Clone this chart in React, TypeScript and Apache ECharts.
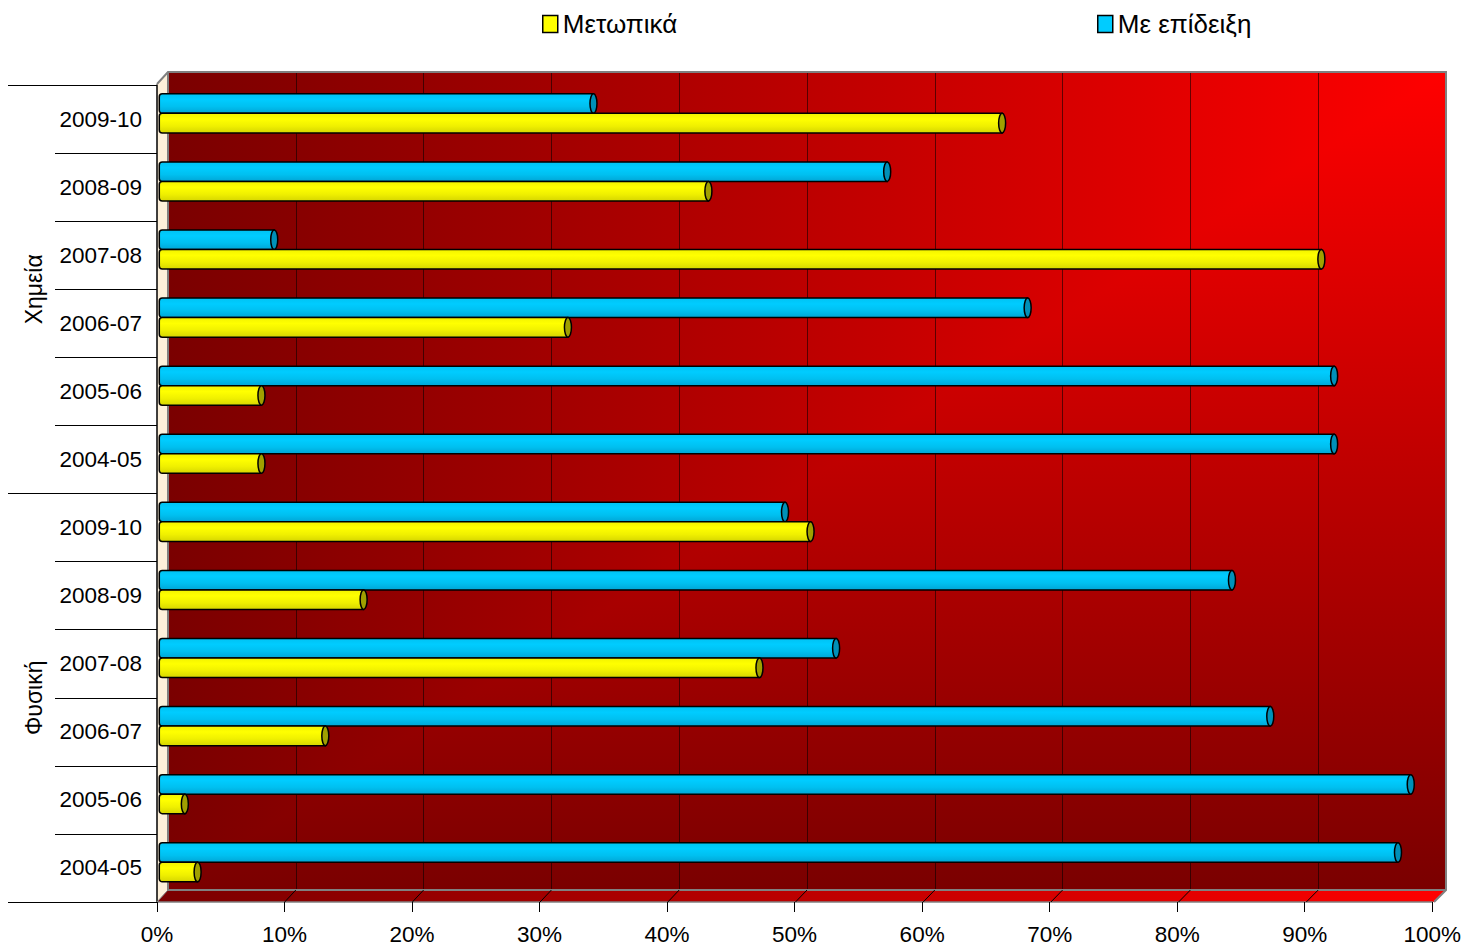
import React, { useEffect, useRef } from 'react';
import * as echarts from 'echarts';

// ---- data (top to bottom) ----
const categories = ['2009-10', '2008-09', '2007-08', '2006-07', '2005-06', '2004-05', '2009-10', '2008-09', '2007-08', '2006-07', '2005-06', '2004-05'];
const groups = ['Χημεία', 'Φυσική'];
const seriesNames = ['Μετωπικά', 'Με επίδειξη'];
const metopika = [66, 43, 91, 32, 8, 8, 51, 16, 47, 13, 2, 3];
const meEpideixi = [34, 57, 9, 68, 92, 92, 49, 84, 53, 87, 98, 97];
const xMin = 0;
const xMax = 100;
const xInterval = 10;

const FONT = "'Liberation Sans', Arial, sans-serif";

// geometry of the 3D box (decoration)
const FL = 157, FR = 1434, FB = 902; // front
const BL = 168, BR = 1446, BT = 72, BB = 890; // back wall

function makeRender(isBlue: boolean) {
  const body = isBlue
    ? [
        { offset: 0, color: '#00c2f2' },
        { offset: 0.3, color: '#00ccff' },
        { offset: 0.65, color: '#00c0f0' },
        { offset: 1, color: '#00a6d6' },
      ]
    : [
        { offset: 0, color: '#f2f200' },
        { offset: 0.3, color: '#ffff00' },
        { offset: 0.65, color: '#f0f000' },
        { offset: 1, color: '#d6d600' },
      ];
  const cap = isBlue ? '#0090b8' : '#a0a000';
  return (params: any, api: any) => {
    const val = api.value(0);
    const idx = api.value(1);
    const end = api.coord([val, idx]);
    const start = api.coord([0, idx]);
    const band = api.size([0, 1])[1];
    const h = band * 0.287;
    const yTop = isBlue ? end[1] - h : end[1];
    const rx = 3.5;
    return {
      type: 'group',
      children: [
        {
          type: 'rect',
          shape: { x: start[0], y: yTop, width: Math.max(end[0] - start[0], 1), height: h, r: [3, 0, 0, 3] },
          style: {
            fill: new echarts.graphic.LinearGradient(0, 0, 0, 1, body),
            stroke: '#000',
            lineWidth: 1.5,
          },
        },
        {
          type: 'ellipse',
          shape: { cx: end[0], cy: yTop + h / 2, rx, ry: h / 2 },
          style: { fill: cap, stroke: '#000', lineWidth: 1.5 },
        },
      ],
    };
  };
}

const floorConnectors: any[] = [];
for (let k = 0; k <= 10; k++) {
  const fx = FL + ((FR - FL) * k) / 10;
  const bx = BL + ((BR - BL) * k) / 10;
  floorConnectors.push({
    type: 'line',
    z: 1,
    shape: { x1: fx, y1: FB, x2: bx, y2: BB },
    style: { stroke: k === 0 || k === 10 ? '#808080' : '#000', lineWidth: 1 },
  });
}

export default function App() {
  const ref = useRef<HTMLDivElement>(null);
  useEffect(() => {
    if (!ref.current) return;
    const chart = echarts.init(ref.current, null, { renderer: 'svg' });
    const legendText = { fontFamily: FONT, fontSize: 26, color: '#000' };
    chart.setOption({
      animation: false,
      backgroundColor: '#fff',
      legend: [
        {
          data: [seriesNames[0]],
          left: 537,
          top: 6,
          icon: 'rect',
          itemWidth: 15,
          itemHeight: 17,
          itemGap: 8,
          itemStyle: { borderColor: '#000', borderWidth: 1.5 },
          textStyle: legendText,
        },
        {
          data: [seriesNames[1]],
          left: 1092,
          top: 6,
          icon: 'rect',
          itemWidth: 15,
          itemHeight: 17,
          itemGap: 8,
          itemStyle: { borderColor: '#000', borderWidth: 1.5 },
          textStyle: legendText,
        },
      ],
      grid: [
        { left: FL, right: 1464 - FR, top: 85, bottom: 947 - FB },
        { left: 159.3, right: 27.7, top: 79.3, bottom: 50.7 },
        { left: BL, right: 1464 - BR, top: BT, bottom: 947 - BB },
        { left: FL, right: 1464 - FR, top: 85, bottom: 947 - FB },
      ],
      xAxis: [
        {
          gridIndex: 0,
          type: 'value',
          min: xMin,
          max: xMax,
          interval: xInterval,
          axisLine: { show: true, lineStyle: { color: '#808080', width: 1.5 } },
          axisTick: { show: true, length: 10, lineStyle: { color: '#000' } },
          axisLabel: { formatter: '{value}%', fontFamily: FONT, fontSize: 22.5, color: '#000', margin: 21 },
          splitLine: { show: false },
        },
        { gridIndex: 1, type: 'value', min: xMin, max: xMax, show: false },
        {
          gridIndex: 2,
          type: 'value',
          min: xMin,
          max: xMax,
          interval: xInterval,
          axisLine: { show: false },
          axisTick: { show: false },
          axisLabel: { show: false },
          splitLine: { show: true, lineStyle: { color: 'rgba(0,0,0,0.55)', width: 1 } },
        },
        { gridIndex: 3, type: 'value', min: xMin, max: xMax, show: false },
      ],
      yAxis: [
        {
          gridIndex: 0,
          type: 'category',
          data: categories,
          inverse: true,
          axisLine: { show: true, lineStyle: { color: '#000', width: 1.5 } },
          axisTick: { show: true, length: 102, interval: 0, lineStyle: { color: '#000', width: 1 } },
          axisLabel: { interval: 0, fontFamily: FONT, fontSize: 22.5, color: '#000', margin: 15 },
        },
        { gridIndex: 1, type: 'category', data: categories, inverse: true, show: false },
        { gridIndex: 2, type: 'value', show: false },
        {
          gridIndex: 3,
          type: 'category',
          data: groups,
          inverse: true,
          axisLine: { show: false },
          axisTick: { show: true, length: 149, interval: 0, lineStyle: { color: '#000', width: 1 } },
          axisLabel: { interval: 0, rotate: 90, fontFamily: FONT, fontSize: 23, color: '#000', margin: 112 },
        },
      ],
      graphic: [
        {
          type: 'rect',
          z: -10,
          shape: { x: BL, y: BT, width: BR - BL, height: BB - BT },
          style: {
            fill: new echarts.graphic.LinearGradient(0, 0, 1, 0, [
              { offset: 0, color: '#7a0000' },
              { offset: 1, color: '#ff0000' },
            ]),
          },
        },
        {
          type: 'polygon',
          z: -9,
          shape: { points: [[BR, BT], [BR, BB], [BL, BB]] },
          style: {
            fill: new echarts.graphic.LinearGradient(0, 0, 0, 1, [
              { offset: 0, color: '#ff0000' },
              { offset: 1, color: '#7a0000' },
            ]),
          },
        },
        {
          type: 'polygon',
          z: -8,
          shape: { points: [[FL, 84], [BL, BT], [BL, BB], [FL, FB]] },
          style: { fill: '#fdf0da' },
        },
        {
          type: 'polygon',
          z: -8,
          shape: { points: [[FL, FB], [FR, FB], [BR, BB], [BL, BB]] },
          style: {
            fill: new echarts.graphic.LinearGradient(0, 0, 1, 0, [
              { offset: 0, color: '#7a0000' },
              { offset: 1, color: '#ff0000' },
            ]),
          },
        },
        {
          type: 'polyline',
          z: 1,
          shape: { points: [[FL, 84], [BL, BT], [BR, BT], [BR, BB], [FR, FB]] },
          style: { stroke: '#808080', lineWidth: 2, fill: null },
        },
        {
          type: 'polyline',
          z: 1,
          shape: { points: [[BL, BT], [BL, BB], [BR, BB]] },
          style: { stroke: '#808080', lineWidth: 2, fill: null },
        },
        ...floorConnectors,
      ],
      series: [
        {
          name: seriesNames[1],
          type: 'custom',
          xAxisIndex: 1,
          yAxisIndex: 1,
          itemStyle: { color: '#00ccff' },
          encode: { x: 0, y: 1 },
          data: meEpideixi.map((v, i) => [v, i]),
          renderItem: makeRender(true),
          z: 3,
        },
        {
          name: seriesNames[0],
          type: 'custom',
          xAxisIndex: 1,
          yAxisIndex: 1,
          itemStyle: { color: '#ffff00' },
          encode: { x: 0, y: 1 },
          data: metopika.map((v, i) => [v, i]),
          renderItem: makeRender(false),
          z: 3,
        },
      ],
    });
    return () => chart.dispose();
  }, []);
  return <div ref={ref} style={{ position: 'absolute', left: 0, top: 0, width: 1464, height: 947 }} />;
}
